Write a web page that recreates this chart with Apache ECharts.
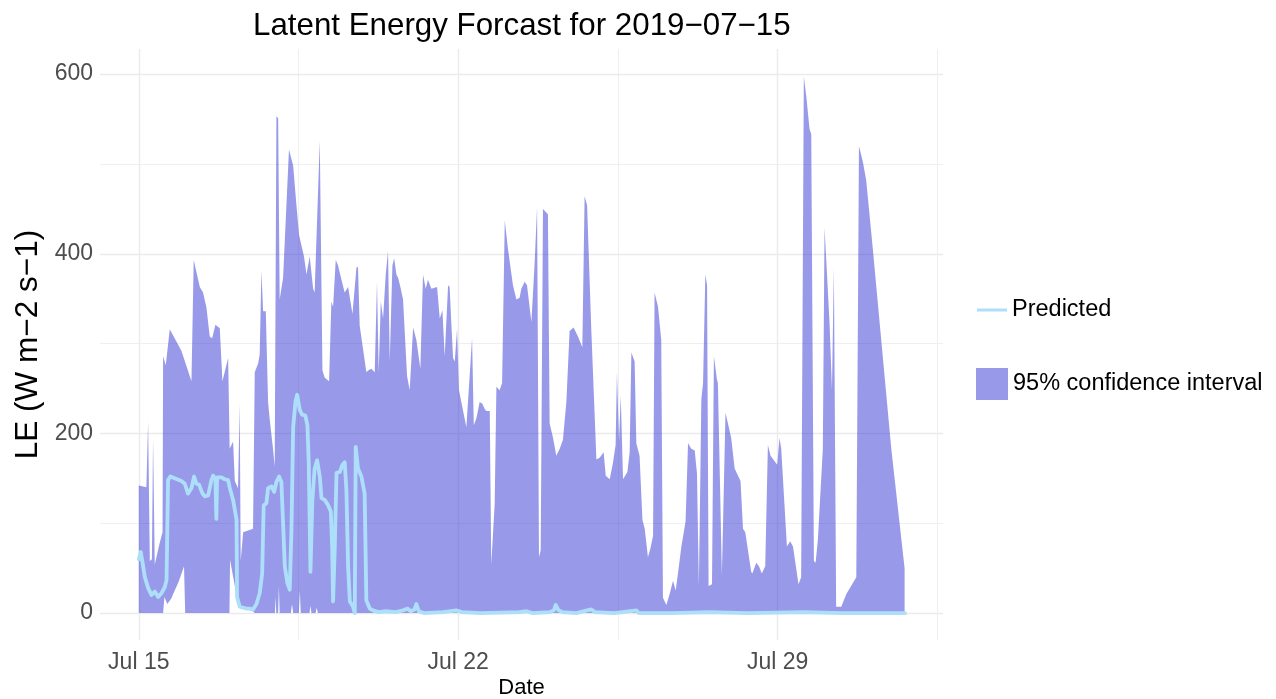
<!DOCTYPE html>
<html>
<head>
<meta charset="utf-8">
<title>Latent Energy Forcast</title>
<script src="https://cdn.jsdelivr.net/npm/echarts@6/dist/echarts.min.js"></script>
<style>
  html, body { margin: 0; padding: 0; background: #fff; }
  #chart { width: 1276px; height: 699px; }
</style>
</head>
<body>
<div id="chart"></div>
<script>
// times are hours after 2019-07-15 00:00

// upper edge of the 95% confidence band
const upperHours = [0, 4.0, 4.9, 5.8, 6.9, 7.5, 8.4, 11.0, 12.5, 12.8, 14.2, 16.3, 22.4, 27.7, 28.9, 32.1, 33.8, 35.6, 37.3, 38.6,
  40.3, 42.6, 44.0, 47.0, 47.8, 49.6, 50.5, 52.2, 53.1, 53.6, 54.9, 57.5, 60.1, 61.0, 62.8, 63.6, 64.5, 65.4, 66.8, 68.0,
  68.9, 70.6, 71.5, 72.4, 73.3, 74.1, 75.9, 79.0, 81.2, 82.6, 84.3, 86.9, 88.2, 89.9, 91.7, 92.5, 95.2, 96.6, 97.8, 100.1,
  101.3, 102.2, 103.6, 104.8, 106.6, 108.3, 110.1, 112.4, 114.5, 115.3, 116.2, 119.7, 120.6, 122.3, 124.1, 125.3, 126.2, 127.3, 128.5, 129.9,
  131.1, 132.0, 133.4, 134.3, 135.5, 136.4, 137.6, 139.0, 141.1, 142.5, 144.3, 146.0, 148.1, 149.5, 150.9, 152.1, 153.9, 156.9, 158.3, 159.7,
  160.9, 162.7, 163.5, 164.4, 165.3, 166.2, 167.4, 168.4, 172.3, 175.3, 176.2, 177.6, 179.3, 180.7, 182.0, 182.8, 184.6, 185.4, 187.2, 188.1,
  189.8, 191.1, 192.5, 194.2, 196.8, 198.6, 200.3, 201.2, 203.0, 204.2, 206.5, 208.2, 209.5, 210.5, 211.4, 212.6, 215.2, 216.1, 217.9, 219.6,
  221.4, 223.1, 224.9, 226.6, 228.7, 231.0, 233.3, 234.5, 235.8, 238.0, 240.7, 242.4, 244.5, 245.6, 247.7, 249.4, 250.8, 251.5, 252.6, 253.5,
  254.7, 257.0, 258.2, 259.1, 260.8, 261.7, 263.4, 264.9, 266.1, 267.8, 269.1, 270.5, 271.3, 273.1, 274.8, 275.7, 277.5, 279.2, 281.0, 282.4,
  283.6, 285.4, 287.6, 288.9, 290.6, 292.4, 293.6, 294.6, 295.9, 296.8, 298.0, 298.9, 299.7, 301.5, 302.5, 304.1, 304.6, 306.7, 308.6, 311.6,
  313.4, 316.5, 317.8, 319.0, 322.1, 322.7, 324.8, 326.2, 327.7, 329.5, 330.9, 332.3, 335.8, 337.0, 337.9, 340.9, 342.6, 344.1, 347.0, 348.4,
  349.8, 351.1, 352.8, 353.7, 355.1, 356.0, 357.2, 359.8, 360.7, 363.3, 364.6, 365.6, 366.8, 369.5, 372.1, 377.4, 378.8, 380.9, 382.6, 386.1,
  395.8, 402.8];
const upperLE = [142, 140, 213, 58, 60, 195, 54, 78, 90, 286, 276, 316, 292, 258, 393, 363, 357, 340, 308, 306,
  321, 317, 258, 284, 183, 191, 147, 139, 233, 58, 90, 92, 94, 268, 278, 288, 381, 336, 336, 235,
  215, 183, 163, 553, 551, 349, 373, 516, 498, 462, 421, 397, 377, 397, 361, 357, 526, 270, 262, 258,
  347, 341, 393, 387, 371, 357, 363, 333, 385, 385, 320, 268, 270, 272, 268, 369, 268, 347, 328, 377,
  403, 280, 387, 395, 377, 373, 363, 349, 264, 248, 318, 304, 272, 377, 361, 371, 361, 363, 328, 337,
  286, 365, 363, 322, 284, 280, 316, 248, 207, 306, 209, 217, 235, 233, 227, 225, 225, 54, 122, 252,
  248, 256, 437, 405, 365, 349, 351, 361, 369, 365, 324, 389, 452, 62, 70, 450, 444, 211, 195, 175,
  183, 193, 235, 314, 318, 308, 296, 464, 454, 316, 171, 173, 179, 153, 149, 167, 187, 268, 191, 242,
  149, 157, 179, 290, 280, 189, 175, 104, 94, 62, 72, 86, 357, 341, 304, 17, 9, 21, 36, 25,
  44, 74, 102, 189, 183, 181, 155, 30, 238, 256, 377, 365, 30, 32, 286, 260, 256, 42, 223, 195,
  161, 147, 94, 90, 46, 44, 56, 52, 44, 52, 187, 175, 165, 195, 183, 74, 80, 74, 32, 40,
  597, 575, 539, 533, 58, 56, 82, 183, 429, 324, 248, 385, 7, 7, 21, 40, 520, 502, 482, 405,
  183, 50];

// lower edge of the band
const lowerHours = [0, 12.8, 13.5, 15.0, 17.0, 21.0, 23.8, 24.4, 47.7, 48.0, 52.2, 55.0, 60.0, 61.0, 71.6, 72.0, 72.3, 73.3, 73.7, 74.1,
  80.0, 80.6, 81.2, 84.2, 84.7, 85.2, 89.8, 90.3, 90.8, 93.0, 93.6, 94.2, 402.8];
const lowerLE = [0, 0, 18, 10, 16, 35, 52, 0, 0, 59, 11, 5, 2, 0, 0, 18, 0, 0, 30, 0,
  0, 10, 0, 0, 25, 0, 0, 8, 0, 0, 6, 0, 0];

// predicted LE
const predHours = [0, 1.05, 2.3, 3.2, 4.0, 4.9, 6.7, 8.4, 10.2, 11.9, 13.7, 14.6, 15.4, 16.6, 22.4, 24.2, 25.9, 27.7, 29.1, 30.3,
  31.7, 33.5, 34.7, 36.5, 38.2, 39.1, 40.3, 40.8, 41.2, 43.5, 45.2, 47.0, 47.9, 49.6, 51.4, 51.7, 53.1, 56.6, 58.4, 60.1,
  61.9, 63.6, 64.9, 65.7, 67.1, 68.0, 69.8, 71.2, 72.4, 73.8, 75.0, 75.9, 76.8, 78.2, 79.4, 80.3, 81.2, 82.4, 83.3, 84.7,
  85.9, 87.6, 88.7, 89.4, 90.3, 91.3, 92.5, 93.8, 95.2, 96.1, 97.8, 99.6, 101.0, 101.7, 102.2, 103.1, 104.0, 105.7, 107.1, 108.3,
  109.2, 110.1, 111.0, 112.7, 113.6, 114.1, 115.3, 117.1, 118.8, 119.7, 121.5, 123.2, 126, 130, 135, 139, 141.5, 143, 145, 146,
  147.3, 150, 160, 167, 170, 180, 200, 204, 207, 216, 218.3, 219.3, 220.8, 223, 230, 238, 240, 250, 261.7, 263,
  280, 300, 320, 350, 370, 403];
const predLE = [60, 68, 52, 40, 39, 28, 20, 24, 18, 22, 29, 37, 148, 152, 147, 144, 133, 139, 152, 144,
  143, 133, 130, 131, 148, 153, 149, 105, 151, 151, 149, 148, 139, 126, 104, 18, 7, 5, 5, 4,
  10, 22, 44, 120, 122, 139, 141, 135, 146, 152, 146, 100, 52, 33, 26, 92, 207, 235, 243, 226,
  221, 220, 209, 167, 46, 126, 161, 170, 152, 128, 126, 120, 113, 74, 13, 74, 156, 157, 165, 168,
  137, 52, 13, 7, 0, 185, 161, 152, 133, 14, 5, 3, 1, 2, 1, 3, 5, 2, 4, 10,
  2, 0, 1, 3, 1, 0, 1, 2, 0, 1, 3, 9, 3, 1, 0, 4, 1, 0, 3, 0,
  0, 1, 0, 1, 0, 0];

// axis ticks
const yMajorTicks = [0, 200, 400, 600];
const yMinorTicks = [100, 300, 500];
const xMajorTicks = ['2019-07-15T00:00:00Z', '2019-07-22T00:00:00Z', '2019-07-29T00:00:00Z'];
const xMinorTicks = ['2019-07-18T12:00:00Z', '2019-07-25T12:00:00Z', '2019-08-01T12:00:00Z'];
const monthNames = ['Jan', 'Feb', 'Mar', 'Apr', 'May', 'Jun', 'Jul', 'Aug', 'Sep', 'Oct', 'Nov', 'Dec'];

const START = Date.UTC(2019, 6, 15);
const toTime = h => START + h * 3600 * 1000;

const FONT = '"Liberation Sans", Arial, Helvetica, sans-serif';
const bandColor = 'rgba(49, 51, 209, 0.5)';
const lineColor = '#ADDFFA';
const gridColor = '#EBEBEB';

const chart = echarts.init(document.getElementById('chart'));

// 置信区间多边形：上沿正向 + 下沿反向
const renderBand = (params, api) => {
  const points = [];
  for (let i = 0; i < upperHours.length; i++) {
    points.push(api.coord([toTime(upperHours[i]), upperLE[i]]));
  }
  for (let i = lowerHours.length - 1; i >= 0; i--) {
    points.push(api.coord([toTime(lowerHours[i]), lowerLE[i]]));
  }
  return {
    type: 'polygon',
    shape: { points },
    style: { fill: bandColor }
  };
};

// x 用数值轴（毫秒时间戳），刻度自定义
const xBase = {
  type: 'value',
  min: toTime(-20.4),
  max: toTime(423),
  axisLine: { show: false },
  axisPointer: { show: false }
};
const yBase = {
  type: 'value',
  min: -30,
  max: 628,
  axisLine: { show: false }
};

const legendText = { fontSize: 23.5, color: '#000', fontFamily: FONT };

chart.setOption({
  animation: false,
  backgroundColor: '#fff',
  textStyle: { fontFamily: FONT },
  title: {
    text: 'Latent Energy Forcast for 2019\u221207\u221215',
    left: 248,
    top: 6,
    textStyle: { fontSize: 31.3, fontWeight: 'normal', color: '#000', fontFamily: FONT }
  },
  grid: { left: 100, right: 333, top: 49, bottom: 59, containLabel: false, outerBoundsMode: 'none' },
  legend: [
    {
      data: [{ name: 'Predicted', icon: 'rect', itemStyle: { color: lineColor } }],
      left: 977,
      top: 298,
      padding: 0,
      itemWidth: 30,
      itemHeight: 3,
      selectedMode: false,
      textStyle: legendText
    },
    {
      data: [{ name: '95% confidence interval', icon: 'rect' }],
      left: 976,
      top: 368,
      padding: 0,
      itemWidth: 32,
      itemHeight: 32,
      selectedMode: false,
      textStyle: legendText
    }
  ],
  xAxis: [
    Object.assign({}, xBase, {
      name: 'Date',
      nameLocation: 'middle',
      nameGap: 37,
      nameMoveOverlap: false,
      nameTextStyle: { fontSize: 22, color: '#000', fontFamily: FONT },
      axisTick: { show: false, customValues: xMajorTicks.map(d => Date.parse(d)) },
      axisLabel: {
        customValues: xMajorTicks.map(d => Date.parse(d)),
        formatter: v => {
          const d = new Date(v);
          return monthNames[d.getUTCMonth()] + ' ' + d.getUTCDate();
        },
        fontSize: 23,
        color: '#4D4D4D',
        margin: 11,
        fontFamily: FONT
      },
      splitLine: { show: true, lineStyle: { color: gridColor, width: 1.4 } }
    }),
    Object.assign({}, xBase, {
      axisTick: { show: false, customValues: xMinorTicks.map(d => Date.parse(d)) },
      axisLabel: { show: false, customValues: xMinorTicks.map(d => Date.parse(d)) },
      splitLine: { show: true, lineStyle: { color: gridColor, width: 0.8 } }
    })
  ],
  yAxis: [
    Object.assign({}, yBase, {
      name: 'LE (W m\u22122 s\u22121)',
      nameLocation: 'middle',
      nameGap: 56,
      nameMoveOverlap: false,
      nameRotate: 90,
      nameTextStyle: { fontSize: 31.5, color: '#000', fontFamily: FONT },
      axisTick: { show: false, customValues: yMajorTicks },
      axisLabel: { customValues: yMajorTicks, fontSize: 23, color: '#4D4D4D', margin: 7, fontFamily: FONT },
      splitLine: { show: true, lineStyle: { color: gridColor, width: 1.4 } }
    }),
    Object.assign({}, yBase, {
      position: 'left',
      axisTick: { show: false, customValues: yMinorTicks },
      axisLabel: { show: false, customValues: yMinorTicks },
      splitLine: { show: true, lineStyle: { color: gridColor, width: 0.8 } }
    })
  ],
  series: [
    {
      name: '95% confidence interval',
      type: 'custom',
      xAxisIndex: 0,
      yAxisIndex: 0,
      renderItem: renderBand,
      itemStyle: { color: bandColor },
      data: [[toTime(0), 0]],
      encode: { x: 0, y: 1 },
      silent: true,
      z: 2
    },
    {
      name: 'Predicted',
      type: 'line',
      xAxisIndex: 0,
      yAxisIndex: 0,
      data: predHours.map((h, i) => [toTime(h), predLE[i]]),
      showSymbol: false,
      symbol: 'none',
      lineStyle: { color: lineColor, width: 3.8, join: 'round', cap: 'round' },
      itemStyle: { color: lineColor },
      silent: true,
      z: 3
    }
  ]
});

window.addEventListener('resize', () => chart.resize());
</script>
</body>
</html>
